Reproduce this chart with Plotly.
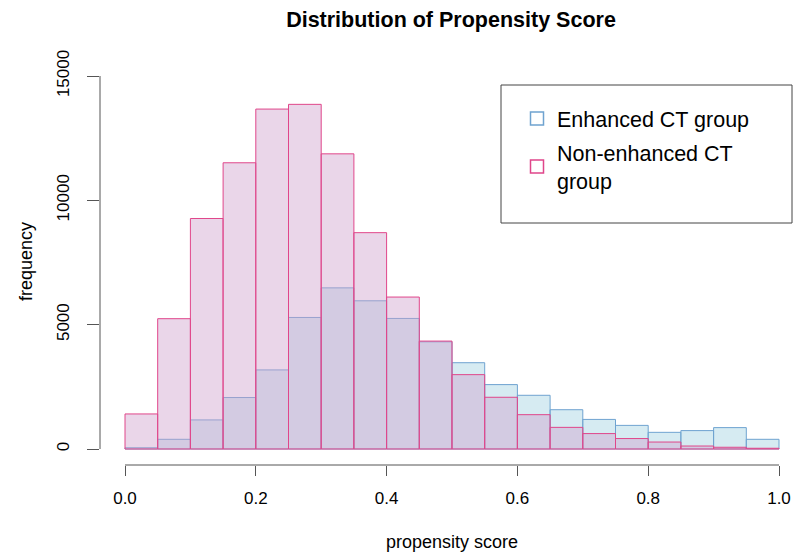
import plotly.graph_objects as go

# ---- data ----
bin_left = [0.00, 0.05, 0.10, 0.15, 0.20, 0.25, 0.30, 0.35, 0.40, 0.45,
            0.50, 0.55, 0.60, 0.65, 0.70, 0.75, 0.80, 0.85, 0.90, 0.95]
bin_width = 0.05
enhanced = [50, 390, 1170, 2070, 3180, 5290, 6480, 5960, 5250, 4310,
            3470, 2590, 2160, 1580, 1190, 950, 670, 740, 860, 390]
non_enhanced = [1410, 5240, 9270, 11510, 13670, 13860, 11870, 8700, 6110, 4340,
                2990, 2080, 1380, 870, 620, 420, 280, 120, 70, 30]
series_names = ["Enhanced CT group", "Non-enhanced CT<br>group"]
x_tick_vals = [0.0, 0.2, 0.4, 0.6, 0.8, 1.0]
x_tick_text = ["0.0", "0.2", "0.4", "0.6", "0.8", "1.0"]
y_tick_vals = [0, 5000, 10000, 15000]
y_tick_text = ["0", "5000", "10000", "15000"]

BLUE_LINE = "#6fa3d0"
BLUE_FILL = "rgba(173,216,230,0.5)"
PINK_LINE = "#e0468a"
PINK_FILL = "rgba(206,160,204,0.43)"
FONT = "Liberation Sans, Arial, sans-serif"

W, H = 794, 559

# plot area (pixels)
PL, PR, PT, PB = 100, 792, 61, 465
L, R, T, B = PL, W - PR, PT, H - PB
plot_w = PR - PL
plot_h = PB - PT


def paper_x(px):
    return (px - PL) / plot_w


def paper_y(py):
    return (PB - py) / plot_h


fig = go.Figure()

fig.add_trace(go.Bar(
    x=bin_left, y=enhanced, width=[bin_width] * len(bin_left), offset=0,
    marker=dict(color=BLUE_FILL, line=dict(color=BLUE_LINE, width=1)),
    showlegend=False, hoverinfo="skip"))
fig.add_trace(go.Bar(
    x=bin_left, y=non_enhanced, width=[bin_width] * len(bin_left), offset=0,
    marker=dict(color=PINK_FILL, line=dict(color=PINK_LINE, width=1)),
    showlegend=False, hoverinfo="skip"))

# legend entries (open squares like the R legend)
for i, (name, col) in enumerate(zip(series_names, [BLUE_LINE, PINK_LINE])):
    fig.add_trace(go.Scatter(
        x=[None], y=[None], mode="markers", name=name, legendgroup=f"g{i}",
        marker=dict(symbol="square-open", size=13, color=col, line=dict(width=1.5))))

# axis ranges: 0..1 -> px 125..779, 0..15000 -> px 449..76
px_per_x = 779 - 125
px_per_y = (449 - 76) / 15000
x0 = -(125 - PL) / px_per_x
x1 = x0 + plot_w / px_per_x
y0 = -(PB - 449) / px_per_y
y1 = y0 + plot_h / px_per_y

fig.update_layout(
    width=W, height=H,
    margin=dict(l=L, r=R, t=T, b=B, autoexpand=False),
    paper_bgcolor="white", plot_bgcolor="white",
    barmode="overlay", bargap=0,
    font=dict(family=FONT, size=17, color="black"),
    title=dict(text="<b>Distribution of Propensity Score</b>",
               x=451 / W, xanchor="center", xref="container",
               y=1 - 19 / H, yanchor="middle", yref="container",
               font=dict(family=FONT, size=21.5, color="black")),
    xaxis=dict(range=[x0, x1], showgrid=False, zeroline=False, showline=False,
               tickmode="array", tickvals=x_tick_vals, ticktext=x_tick_text,
               ticks="outside", ticklen=10, tickcolor="#555", tickwidth=1,
               tickfont=dict(size=17), ticklabelstandoff=8, fixedrange=True),
    yaxis=dict(range=[y0, y1], showgrid=False, zeroline=False, showline=False,
               tickmode="array", tickvals=y_tick_vals, ticktext=y_tick_text,
               ticks="outside", ticklen=12, tickcolor="#555", tickwidth=1,
               tickangle=-90, tickfont=dict(size=17), ticklabelstandoff=11,
               fixedrange=True),
    legend=dict(x=paper_x(517), xanchor="left",
                y=paper_y(98), yanchor="top",
                bgcolor="rgba(0,0,0,0)", borderwidth=0,
                font=dict(family=FONT, size=21.5, color="black"),
                tracegroupgap=3, itemwidth=30),
    shapes=[
        # R-style axis lines spanning only the tick range
        dict(type="line", xref="x", yref="paper", x0=x_tick_vals[0], x1=x_tick_vals[-1],
             y0=0, y1=0, line=dict(color="#555", width=1)),
        dict(type="line", xref="paper", yref="y", x0=0, x1=0,
             y0=y_tick_vals[0], y1=y_tick_vals[-1], line=dict(color="#555", width=1)),
        # legend box
        dict(type="rect", xref="paper", yref="paper",
             x0=paper_x(501), x1=paper_x(792),
             y0=paper_y(223), y1=paper_y(85),
             line=dict(color="#444", width=1), fillcolor="rgba(0,0,0,0)"),
    ],
    annotations=[
        dict(text="propensity score", xref="paper", yref="paper",
             x=paper_x(452), y=paper_y(542),
             xanchor="center", yanchor="middle", showarrow=False,
             font=dict(family=FONT, size=18, color="black")),
        dict(text="frequency", xref="paper", yref="paper",
             x=paper_x(26), y=paper_y(262), textangle=-90,
             xanchor="center", yanchor="middle", showarrow=False,
             font=dict(family=FONT, size=18, color="black")),
    ],
)

# remove the default page margin so the figure fills the 794x559 window exactly
fig.write_html(
    "out.html",
    config={"displayModeBar": False, "staticPlot": True},
    post_script="document.body.style.margin='0';document.body.style.overflow='hidden';",
)
